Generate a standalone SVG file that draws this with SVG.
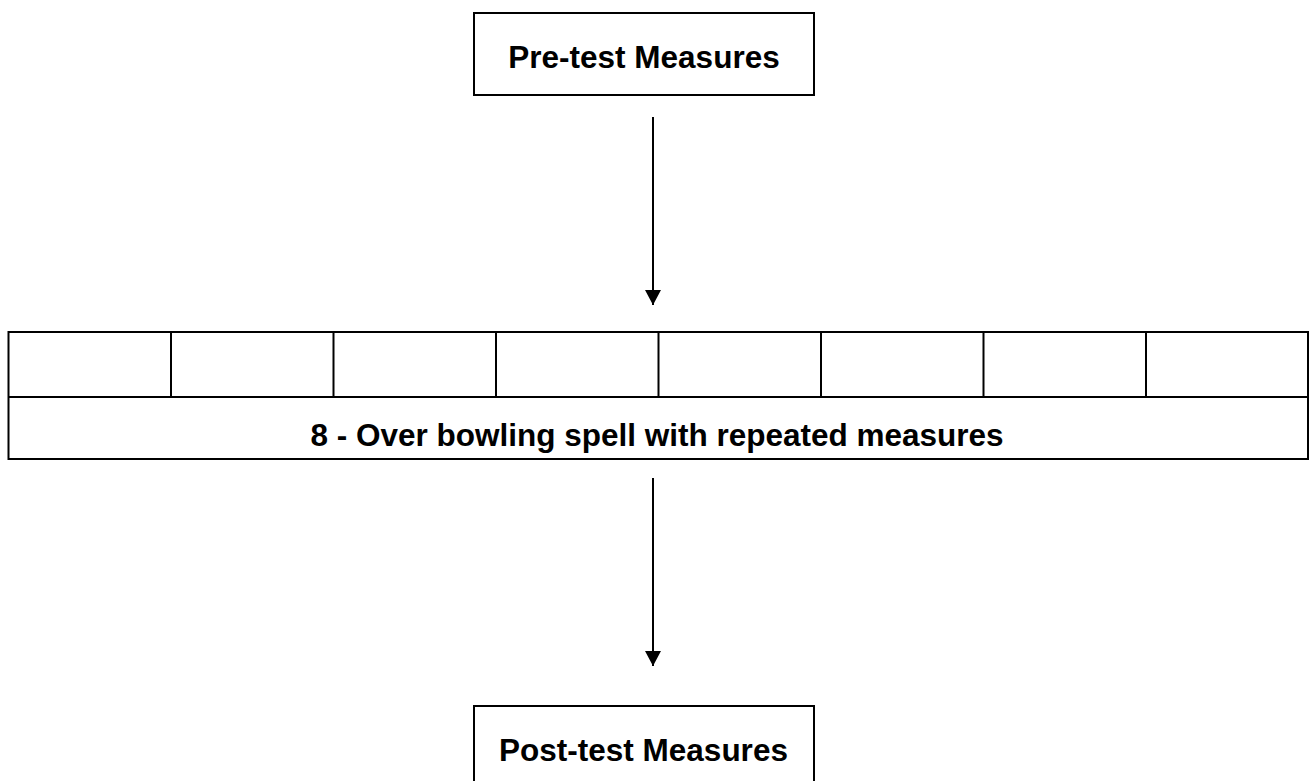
<svg xmlns="http://www.w3.org/2000/svg" width="1309" height="781" viewBox="0 0 1309 781">
<style>
.box{fill:#fff;stroke:#000;stroke-width:2}
.ln{stroke:#000;stroke-width:2;fill:none}
.t{font-family:"Liberation Sans",Arial,sans-serif;font-weight:bold;font-size:31.5px;fill:#000;text-anchor:middle}
</style>
<defs>
<marker id="ah" markerUnits="userSpaceOnUse" markerWidth="16" markerHeight="16" refX="15" refY="8" orient="auto">
<path d="M0,0 L15,8 L0,16 Z" fill="#000"/>
</marker>
</defs>
<rect width="1309" height="781" fill="#fff"/>
<g id="pre">
<rect class="box" x="474" y="13" width="340" height="82"/>
<text class="t" x="644" y="68">Pre-test Measures</text>
</g>
<g id="spell">
<rect class="box" x="8.5" y="332" width="1299.5" height="127"/>
<line class="ln" x1="8.5" y1="397" x2="1308" y2="397"/>
<line class="ln" x1="171" y1="332" x2="171" y2="397"/>
<line class="ln" x1="333.5" y1="332" x2="333.5" y2="397"/>
<line class="ln" x1="496" y1="332" x2="496" y2="397"/>
<line class="ln" x1="658.5" y1="332" x2="658.5" y2="397"/>
<line class="ln" x1="821" y1="332" x2="821" y2="397"/>
<line class="ln" x1="983.5" y1="332" x2="983.5" y2="397"/>
<line class="ln" x1="1146" y1="332" x2="1146" y2="397"/>
<text class="t" x="657" y="446">8 - Over bowling spell with repeated measures</text>
</g>
<g id="post">
<rect class="box" x="474" y="706" width="340" height="100"/>
<text class="t" x="643.5" y="761">Post-test Measures</text>
</g>
<g id="connectors">
<line class="ln" x1="653" y1="117" x2="653" y2="305" marker-end="url(#ah)"/>
<line class="ln" x1="653" y1="478" x2="653" y2="666" marker-end="url(#ah)"/>
</g>
</svg>
